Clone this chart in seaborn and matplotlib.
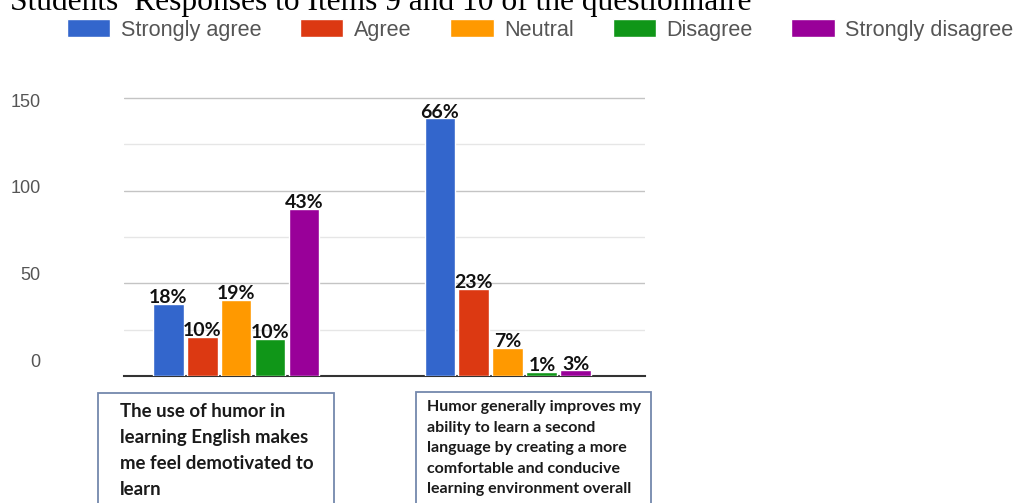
import matplotlib
matplotlib.use("Agg")
import matplotlib.pyplot as plt
from matplotlib.patches import Rectangle
import seaborn as sns
import pandas as pd

# ---- data ----
items = ["Item 9", "Item 10"]
responses = ["Strongly agree", "Agree", "Neutral", "Disagree", "Strongly disagree"]
counts_item9 = [39, 21, 41, 20, 90]
counts_item10 = [139, 47, 15, 2, 3]
pct_item9 = ["18%", "10%", "19%", "10%", "43%"]
pct_item10 = ["66%", "23%", "7%", "1%", "3%"]
yticks = [0, 50, 100, 150]
item_texts = [
    "The use of humor in\nlearning English makes\nme feel demotivated to\nlearn",
    "Humor generally improves my\nability to learn a second\nlanguage by creating a more\ncomfortable and conducive\nlearning environment overall",
]
title = "Students\u2019 Responses to Items 9 and 10 of the questionnaire"
colors = ["#3366CC", "#DC3912", "#FF9900", "#109618", "#990099"]

df = pd.DataFrame({
    "item": [items[0]] * 5 + [items[1]] * 5,
    "response": responses * 2,
    "count": counts_item9 + counts_item10,
})

sns.set_style("white")
W, H = 1019, 503
fig = plt.figure(figsize=(W / 100, H / 100), dpi=100)
ax_left, ax_right, ax_bottom, ax_top = 124, 645, 376, 88.8
pos = [ax_left / W, 1 - ax_bottom / H, (ax_right - ax_left) / W, (ax_bottom - ax_top) / H]
ax = fig.add_axes(pos)

sns.barplot(data=df, x="item", y="count", hue="response", hue_order=responses,
            order=items, palette=colors, saturation=1, width=0.625, gap=0.09,
            ax=ax, legend=True, zorder=3)

ax.set_xlim(-0.412, 1.504)
ax.set_ylim(0, 155)
ax.set_yticks(yticks)
ax.set_yticks([25, 75, 125], minor=True)
ax.grid(axis="y", which="major", color="#c4c4c4", lw=1.0, zorder=0)
ax.grid(axis="y", which="minor", color="#e6e6e6", lw=1.0, zorder=0)
ax.set_axisbelow(True)
for s in ["top", "left", "right"]:
    ax.spines[s].set_visible(False)
ax.spines["bottom"].set_color("#333333")
ax.spines["bottom"].set_linewidth(1.5)
ax.tick_params(axis="y", which="both", length=0, labelleft=False)
ax.tick_params(axis="x", length=0, labelbottom=False)
ax.set_xlabel("")
ax.set_ylabel("")

for i, cont in enumerate(ax.containers):
    ax.bar_label(cont, labels=[pct_item9[i], pct_item10[i]], padding=-1.5,
                 fontsize=14, fontweight="bold", family="Lato", color="#111111")

# y tick labels (pasted scale, slightly offset from gridlines)
ax2 = fig.add_axes(pos, frameon=False)
ax2.set_ylim(-9.23, 156.5)
ax2.set_yticks(yticks)
ax2.set_xticks([])
ax2.tick_params(axis="y", length=0, pad=60, labelsize=13, labelcolor="#555555")
for lab in ax2.get_yticklabels():
    lab.set_family("Liberation Sans")

# legend
h, l = ax.get_legend_handles_labels()
ax.get_legend().remove()
fig.legend(h, l, loc="center left", bbox_to_anchor=(67 / W, 1 - 30 / H), ncol=5,
           frameon=False, prop={"family": "Liberation Sans", "size": 15.6},
           handlelength=2.0, handleheight=0.84, handletextpad=0.47,
           columnspacing=1.8, borderpad=0, borderaxespad=0, labelcolor="#555555")

# title (cut off at the top)
fig.text(10 / W, 1 - 10 / H, title, family="Liberation Serif", size=22.7,
         va="baseline", ha="left", color="black")

# category boxes
boxes = [(98, 334, 393), (416, 651, 392)]
for (x0, x1, ytop) in boxes:
    fig.patches.append(Rectangle((x0 / W, -0.1), (x1 - x0) / W, (1 - ytop / H) + 0.1,
                                 transform=fig.transFigure, fill=False,
                                 edgecolor="#7488ad", lw=1.3))
fig.text(120 / W, 1 - 403 / H, item_texts[0], va="top", ha="left", family="Lato",
         weight="bold", size=13.4, linespacing=1.65, color="#1a1a1a")
fig.text(427 / W, 1 - 400 / H, item_texts[1], va="top", ha="left", family="Lato",
         weight="bold", size=11.5, linespacing=1.6, color="#1a1a1a")

fig.savefig("out.png", dpi=100)
